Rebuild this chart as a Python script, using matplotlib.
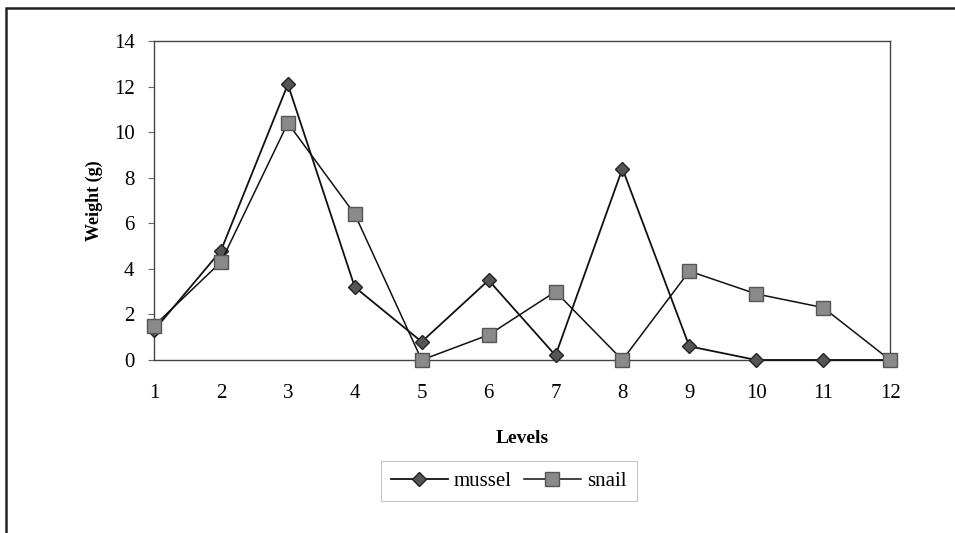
#
# Weight per level for mussel and snail
#
import matplotlib.pyplot as plt
from matplotlib.patches import Rectangle

levels = [1, 2, 3, 4, 5, 6, 7, 8, 9, 10, 11, 12]
mussel = [1.3, 4.8, 12.1, 3.2, 0.8, 3.5, 0.2, 8.4, 0.6, 0.0, 0.0, 0.0]
snail = [1.5, 4.3, 10.4, 6.4, 0.0, 1.1, 3.0, 0.0, 3.9, 2.9, 2.3, 0.0]
yticks = [0, 2, 4, 6, 8, 10, 12, 14]

plt.rcParams['font.family'] = ['Liberation Serif', 'DejaVu Serif']

fig = plt.figure(figsize=(9.55, 5.33), dpi=100)
ax = fig.add_axes([0.1613, 0.3246, 0.7707, 0.5984])

# outer frame of the picture (left and top edges)
fig.add_artist(Rectangle((0.006, -0.05), 1.2, 1.035, transform=fig.transFigure,
                         fill=False, edgecolor='#222222', linewidth=1.8))

ax.plot(levels, mussel, color='#111111', linewidth=1.3, marker='D', markersize=7,
        markerfacecolor='#555555', markeredgecolor='#222222', markeredgewidth=1.0,
        label='mussel', zorder=3, clip_on=False)
ax.plot(levels, snail, color='#111111', linewidth=1.1, marker='s', markersize=10,
        markerfacecolor='#8a8a8a', markeredgecolor='#555555', markeredgewidth=1.0,
        label='snail', zorder=3, clip_on=False)

ax.set_xlim(1, 12)
ax.set_ylim(0, 14)
ax.set_xticks(levels)
ax.set_yticks(yticks)
ax.tick_params(axis='x', length=0, pad=17, labelsize=15)
ax.tick_params(axis='y', length=4, direction='out', pad=10, labelsize=15, color='#666666')
for s in ax.spines.values():
    s.set_color('#444444')
    s.set_linewidth(1.0)

ax.set_ylabel('Weight (g)', fontsize=13, fontweight='bold', labelpad=8)
ax.set_xlabel('Levels', fontsize=14, fontweight='bold', labelpad=20)

leg = ax.legend(loc='upper center', bbox_to_anchor=(0.482, -0.284), ncol=2,
                fontsize=15, frameon=True, fancybox=False, handlelength=2.7,
                handletextpad=0.3, columnspacing=0.6, borderpad=0.5)
leg.get_frame().set_edgecolor('#bbbbbb')
leg.get_frame().set_linewidth(0.8)

fig.savefig('out.png', dpi=100)
